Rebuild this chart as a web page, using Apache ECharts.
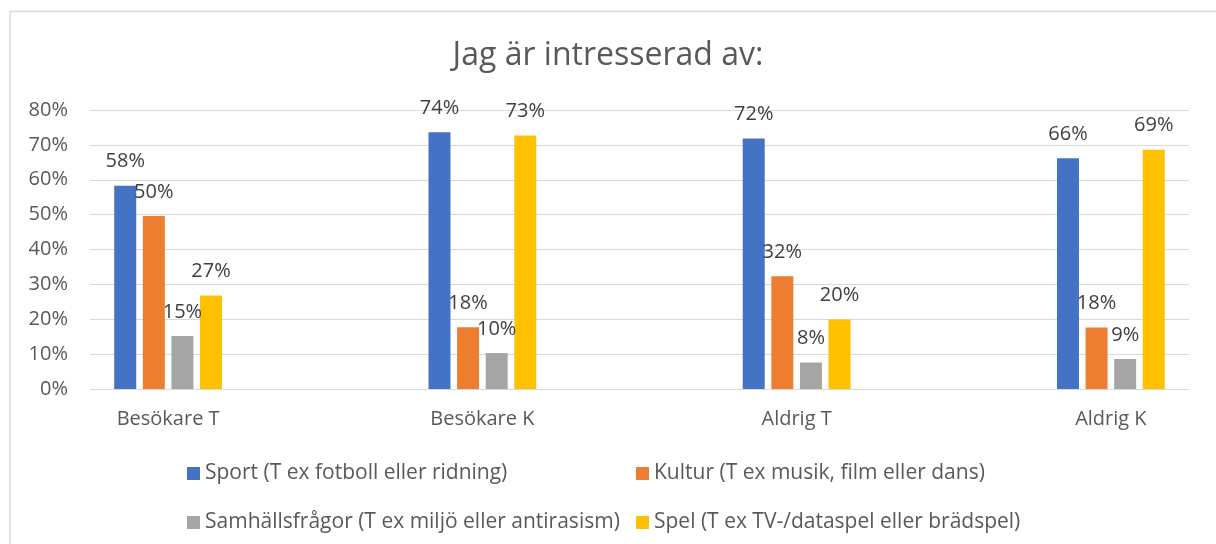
<!DOCTYPE html>
<html>
<head>
<meta charset="utf-8">
<title>Jag är intresserad av</title>
<script src="https://cdn.jsdelivr.net/npm/echarts@6/dist/echarts.min.js"></script>
<style>
  html, body { margin: 0; padding: 0; background: #fff; }
  #EChart1 { width: 1216px; height: 544px; }
</style>
</head>
<body>
<div id="EChart1"></div>
<script>
// kategorier (x-axeln)
let categories = ['Besökare T', 'Besökare K', 'Aldrig T', 'Aldrig K']
// serienamn
let seriesNames = [
  'Sport (T ex fotboll eller ridning)',
  'Kultur (T ex musik, film eller dans)',
  'Samhällsfrågor (T ex miljö eller antirasism)',
  'Spel (T ex TV-/dataspel eller brädspel)'
]
// värden i procent
let sport = [58.3, 73.6, 71.8, 66.2]
let kultur = [49.6, 17.7, 32.3, 17.6]
let samhalle = [15.2, 10.3, 7.6, 8.6]
let spel = [26.8, 72.7, 19.9, 68.6]
let yTicks = [0, 10, 20, 30, 40, 50, 60, 70, 80]

let colors = ['#4472C4', '#ED7D31', '#A5A5A5', '#FFC000']
let font = 'Open Sans'
let fs = 20

function makeBar(name, values, color){
  return {
    name: name,
    type: 'bar',
    xAxisIndex: 1,
    yAxisIndex: 1,
    barWidth: 22,
    barGap: '30%',
    itemStyle: { color: color },
    label: {
      show: true,
      position: 'top',
      distance: 14,
      fontFamily: font,
      fontSize: fs,
      color: '#404040',
      formatter: p => Math.round(p.value) + '%'
    },
    data: values
  }
}

// en förklaring per post, så att kolumnerna hamnar rätt
function makeLegend(name, x, y){
  return {
    data: [name],
    left: x, top: y,
    itemWidth: 13, itemHeight: 13,
    icon: 'rect',
    textStyle: { fontFamily: font, fontSize: 21, color: '#595959' }
  }
}

let EChart = echarts.init(document.getElementById('EChart1'))
let option = {
  backgroundColor: '#fff',
  animation: false,
  title: {
    text: 'Jag är intresserad av:',
    left: 'center',
    top: 35,
    textStyle: { fontFamily: font, fontSize: 32, fontWeight: 'normal', color: '#595959' }
  },
  legend: [
    makeLegend(seriesNames[0], 182, 458),
    makeLegend(seriesNames[1], 631, 458),
    makeLegend(seriesNames[2], 182, 507),
    makeLegend(seriesNames[3], 631, 507)
  ],
  // grid 0: stödlinjer och y-etiketter, grid 1: staplarna och kategorietiketter
  grid: [
    { left: 90, right: 27, top: 110, bottom: 155 },
    { left: 11, right: -52, top: 110, bottom: 155, outerBoundsMode: 'none' }
  ],
  xAxis: [
    { type: 'category', gridIndex: 0, data: categories, show: false },
    {
      type: 'category', gridIndex: 1, data: categories,
      axisLine: { show: false },
      axisTick: { show: false },
      axisLabel: { margin: 20, fontFamily: font, fontSize: fs, color: '#595959' }
    }
  ],
  yAxis: [
    {
      type: 'value', gridIndex: 0,
      min: yTicks[0], max: yTicks[yTicks.length - 1], interval: 10,
      axisLine: { show: false },
      axisTick: { show: false },
      splitLine: { lineStyle: { color: '#d9d9d9', width: 1 } },
      axisLabel: { margin: 22, fontFamily: font, fontSize: fs, color: '#595959', formatter: '{value}%' }
    },
    {
      type: 'value', gridIndex: 1,
      min: yTicks[0], max: yTicks[yTicks.length - 1], interval: 10,
      show: false
    }
  ],
  // ramen runt diagramytan
  graphic: [
    {
      type: 'polyline',
      silent: true,
      shape: { points: [[10, 544], [10, 11.5], [1216, 11.5]] },
      style: { stroke: '#d9d9d9', lineWidth: 1.5, fill: null }
    }
  ],
  series: [
    makeBar(seriesNames[0], sport, colors[0]),
    makeBar(seriesNames[1], kultur, colors[1]),
    makeBar(seriesNames[2], samhalle, colors[2]),
    makeBar(seriesNames[3], spel, colors[3])
  ]
}
EChart.setOption(option)
</script>
</body>
</html>
